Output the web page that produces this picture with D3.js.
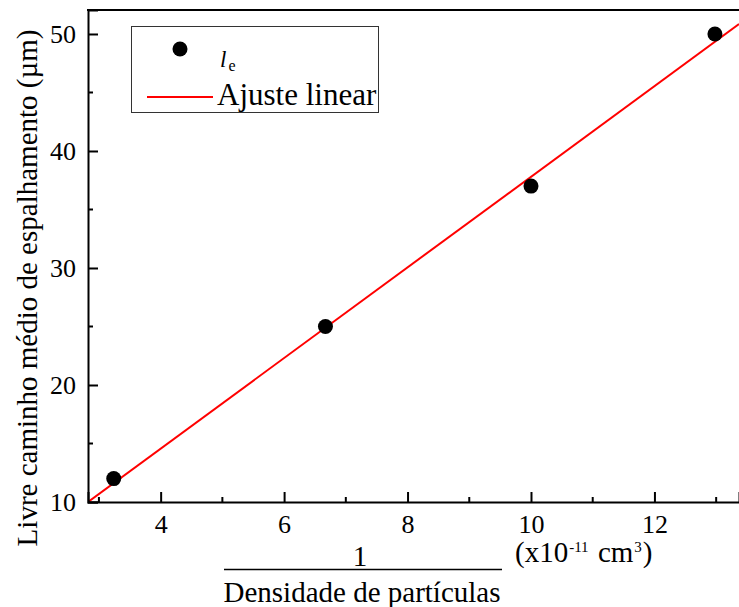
<!DOCTYPE html>
<html><head><meta charset="utf-8">
<script src="https://cdn.jsdelivr.net/npm/d3@7"></script>
<style>body{margin:0;background:#fff}svg{display:block}</style>
</head><body>
<script>
const xValues = [3.24, 6.67, 10.0, 12.98];
const yValues = [12, 25, 37, 50];
const fitX = [2.823, 13.37];
const fitY = [10.0, 50.85];
const xTicks = [4, 6, 8, 10, 12];
const xMinor = [3, 5, 7, 9, 11, 13];
const yTicks = [10, 20, 30, 40, 50];
const yMinor = [15, 25, 35, 45];

const FONT = '"Liberation Serif", "Times New Roman", Times, serif';
const W = 739, H = 607;
const m = {l: 88, t: 10, r: 0, b: 105};
const svg = d3.select("body").append("svg").attr("width", W).attr("height", H);
const x = d3.scaleLinear().domain([2.823, 13.37]).range([m.l, W - m.r]);
const y = d3.scaleLinear().domain([10, 52.05]).range([H - m.b, m.t]);

svg.append("defs").append("clipPath").attr("id", "clip")
  .append("rect").attr("x", m.l).attr("y", m.t).attr("width", W - m.l - m.r).attr("height", H - m.b - m.t);

// fit line
svg.append("path").attr("clip-path", "url(#clip)")
  .datum(fitX.map((v, i) => [v, fitY[i]]))
  .attr("d", d3.line().x(d => x(d[0])).y(d => y(d[1])))
  .attr("stroke", "#ff0000").attr("stroke-width", 2).attr("fill", "none");

// points
svg.selectAll("circle.pt").data(xValues).enter().append("circle")
  .attr("cx", d => x(d)).attr("cy", (d, i) => y(yValues[i])).attr("r", 7.5).attr("fill", "#000");

// axes
const fs = 26;
const xa = svg.append("g").attr("transform", `translate(0,${H - m.b})`)
  .call(d3.axisBottom(x).tickValues(xTicks).tickSize(-10).tickPadding(0).tickFormat(d3.format("d")));
xa.selectAll("text").attr("y", 30.5).attr("dy", 0).style("font-size", fs + "px").style("font-family", FONT).attr("fill", "#000");
xa.append("g").selectAll("line").data(xMinor).enter().append("line")
  .attr("x1", d => x(d)).attr("x2", d => x(d)).attr("y1", 0).attr("y2", -5).attr("stroke", "#000").attr("stroke-width", 2);
const ya = svg.append("g").attr("transform", `translate(${m.l},0)`)
  .call(d3.axisLeft(y).tickValues(yTicks).tickSize(-10).tickPadding(12).tickFormat(d3.format("d")));
ya.selectAll("text").attr("dy", "0.33em").style("font-size", fs + "px").style("font-family", FONT).attr("fill", "#000");
ya.append("g").selectAll("line").data(yMinor).enter().append("line")
  .attr("y1", d => y(d)).attr("y2", d => y(d)).attr("x1", 0).attr("x2", 5).attr("stroke", "#000").attr("stroke-width", 2);
svg.selectAll(".domain").attr("stroke", "#000").attr("stroke-width", 2);
svg.selectAll(".tick line").attr("stroke", "#000").attr("stroke-width", 2);
// top frame
svg.append("line").attr("x1", m.l - 1).attr("x2", W).attr("y1", m.t).attr("y2", m.t).attr("stroke", "#000").attr("stroke-width", 2);

function txt(xp, yp, size, s, anchor) {
  return svg.append("text").attr("x", xp).attr("y", yp).attr("text-anchor", anchor || "start")
    .style("font-family", FONT).style("font-size", size + "px").attr("fill", "#000").text(s);
}

// y title
svg.append("text").attr("transform", `translate(37,288) rotate(-90)`).attr("text-anchor", "middle")
  .style("font-family", FONT).style("font-size", "29px").text("Livre caminho médio de espalhamento (µm)");

// x title (fraction)
txt(360, 565.5, 29, "1", "middle");
svg.append("line").attr("x1", 224).attr("x2", 502).attr("y1", 569.5).attr("y2", 569.5).attr("stroke", "#000").attr("stroke-width", 1.5);
txt(362, 601.5, 29, "Densidade de partículas", "middle");
const u = svg.append("text").attr("x", 515).attr("y", 562).style("font-family", FONT).style("font-size", "29px");
u.append("tspan").text("(x10");
u.append("tspan").style("font-size", "15px").attr("dy", -10).attr("dx", 1).text("-11");
u.append("tspan").attr("dy", 10).attr("dx", 2).text(" cm");
u.append("tspan").style("font-size", "15px").attr("dy", -10).attr("dx", 1).text("3");
u.append("tspan").attr("dy", 10).attr("dx", 1).text(")");

// legend
svg.append("rect").attr("x", 131.5).attr("y", 26.5).attr("width", 247).attr("height", 86)
  .attr("fill", "#fff").attr("stroke", "#333").attr("stroke-width", 1);
svg.append("circle").attr("cx", 180).attr("cy", 49).attr("r", 7.5).attr("fill", "#000");
const lt = svg.append("text").attr("x", 220).attr("y", 66.5).style("font-family", FONT).style("font-size", "23px");
lt.append("tspan").style("font-style", "italic").text("l");
lt.append("tspan").style("font-size", "16px").attr("dy", 4).attr("dx", 2).text("e");
svg.append("line").attr("x1", 147).attr("x2", 213).attr("y1", 97).attr("y2", 97).attr("stroke", "#ff0000").attr("stroke-width", 2);
txt(217, 104.5, 31, "Ajuste linear");
</script>
</body></html>
